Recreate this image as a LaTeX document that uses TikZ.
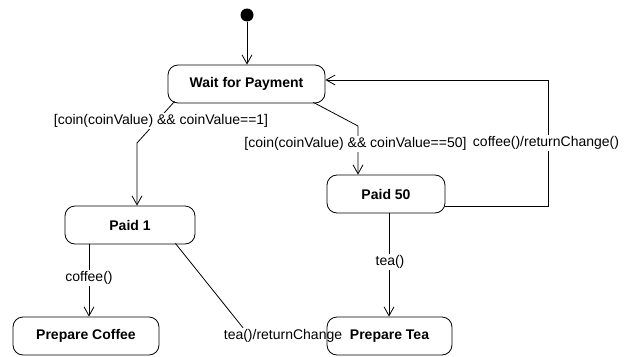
\documentclass[tikz,border=0pt]{standalone}
\usepackage{fontspec}
\setmainfont{Liberation Sans}
\usetikzlibrary{arrows.meta}
\begin{document}
\begin{tikzpicture}[x=1pt,y=-1pt,
  state/.style={draw, rounded corners=10pt, line width=0.8pt, minimum height=38pt,
    inner sep=0pt, font=\fontsize{14}{16}\selectfont\bfseries},
  trans/.style={line width=0.8pt, -{Straight Barb[length=9pt,width=10pt]}},
  lbl/.style={fill=white, inner sep=1.5pt, font=\fontsize{14}{16}\selectfont}]
\useasboundingbox (0,0) rectangle (629,356);

% states
\node[circle, fill=black, minimum size=13pt, inner sep=0pt] (init) at (247,15) {};
\node[state, minimum width=157pt] (wait)   at (246.5,84) {Wait for Payment};
\node[state, minimum width=130pt] (paid1)  at (130,225)  {Paid 1};
\node[state, minimum width=118pt] (paid50) at (386,194)  {Paid 50};
\node[state, minimum width=146pt] (coffee) at (86,336)   {Prepare Coffee};
\node[lbl] (lteach) at (283,336) {tea()/returnChange};
\node[state, minimum width=125pt] (tea)    at (389.5,336) {Prepare Tea};

% transitions
\draw[trans] (init) -- (init |- wait.north);

\coordinate (k1) at (137,143);
\draw[trans] ([xshift=7pt,yshift=2pt]wait.south west) -- (k1) -- (k1 |- paid1.north);

\coordinate (k2) at (358,126);
\draw[trans] ([xshift=-12pt,yshift=1pt]wait.south east) -- (k2) -- (k2 |- paid50.north);

\coordinate (k3) at (548,80);
\draw[trans] ([yshift=-12pt]paid50.east) -| (k3) -- (k3 -| wait.east);

\draw[trans] ([xshift=-41pt]paid1.south) coordinate (s1) -- (s1 |- coffee.north);
\draw[trans] ([xshift=3pt]paid50.south) coordinate (s2) -- (s2 |- tea.north);

\draw[line width=0.8pt] ([xshift=-20pt,yshift=1pt]paid1.south east) -- ([xshift=-40pt]lteach.north);

% transition labels
\node[lbl] (l1)  at (161,121)   {[coin(coinValue) \&\& coinValue==1]};
\node[lbl] (l50) at (355.5,144) {[coin(coinValue) \&\& coinValue==50]};
\node[lbl] (lcr) at (546,143)   {coffee()/returnChange()};
\node[lbl] (lco) at (89,278)    {coffee()};
\node[lbl] (lte) at (390,262)   {tea()};
\end{tikzpicture}
\end{document}
